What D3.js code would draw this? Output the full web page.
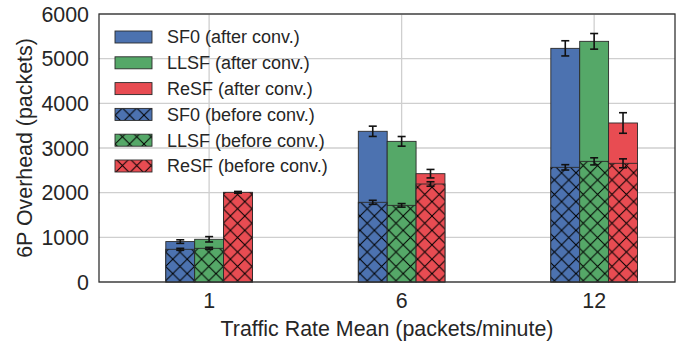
<!DOCTYPE html>
<html><head><meta charset="utf-8">
<script src="https://cdn.jsdelivr.net/npm/d3@7"></script>
<style>body{margin:0;background:#fff}svg{display:block}text{font-family:"Liberation Sans",Arial,sans-serif;fill:#262626}</style>
</head><body><svg id="c" width="695" height="341"></svg>
<script>
const categories = ["1", "6", "12"];
const schemes = ["SF0", "LLSF", "ReSF"];
const colors = ["#4C72B0", "#55A868", "#E84C52"];
const sf0After = [905, 3374, 5231];
const sf0AfterErr = [40, 115, 170];
const llsfAfter = [956, 3149, 5388];
const llsfAfterErr = [60, 108, 175];
const resfAfter = [1995, 2425, 3560];
const resfAfterErr = [20, 95, 230];
const sf0Before = [732, 1784, 2567];
const sf0BeforeErr = [22, 45, 60];
const llsfBefore = [754, 1716, 2701];
const llsfBeforeErr = [22, 40, 80];
const resfBefore = [2008, 2194, 2657];
const resfBeforeErr = [20, 50, 100];
const yTicks = [0, 1000, 2000, 3000, 4000, 5000, 6000];
const legendLabels = ["SF0 (after conv.)", "LLSF (after conv.)", "ReSF (after conv.)",
  "SF0 (before conv.)", "LLSF (before conv.)", "ReSF (before conv.)"];

const after = [sf0After, llsfAfter, resfAfter];
const afterErr = [sf0AfterErr, llsfAfterErr, resfAfterErr];
const before = [sf0Before, llsfBefore, resfBefore];
const beforeErr = [sf0BeforeErr, llsfBeforeErr, resfBeforeErr];

const L = 99, R = 675, T = 14, B = 282;
const svg = d3.select("#c");
const x = d3.scaleLinear().domain([-0.572, 2.42]).range([L, R]);
const y = d3.scaleLinear().domain([0, 6000]).range([B, T]);
const bw = 0.15;

const defs = svg.append("defs");
schemes.forEach((s, i) => {
  const p = defs.append("pattern").attr("id", "h" + i).attr("patternUnits", "userSpaceOnUse")
    .attr("width", 14.4).attr("height", 14.4).attr("x", 0).attr("y", 0);
  p.append("rect").attr("width", 14.4).attr("height", 14.4).attr("fill", colors[i]);
  p.append("path").attr("d", "M-1,-1L15.4,15.4M-1,15.4L15.4,-1").attr("stroke", "#000").attr("stroke-width", 1);
});

// grid
svg.append("g").selectAll("line").data(yTicks).join("line")
  .attr("x1", L).attr("x2", R).attr("y1", d => y(d)).attr("y2", d => y(d))
  .attr("stroke", "#cfcfcf").attr("stroke-width", 1.3);
svg.append("g").selectAll("line").data(categories).join("line")
  .attr("x1", (d, i) => x(i)).attr("x2", (d, i) => x(i)).attr("y1", T).attr("y2", B)
  .attr("stroke", "#cfcfcf").attr("stroke-width", 1.3);

function drawBars(vals, errs, hatch) {
  const g = svg.append("g");
  schemes.forEach((s, si) => {
    categories.forEach((c, ci) => {
      const cx = ci + (si - 1) * bw;
      g.append("rect").attr("x", x(cx - bw / 2)).attr("width", x(cx + bw / 2) - x(cx - bw / 2))
        .attr("y", y(vals[si][ci])).attr("height", y(0) - y(vals[si][ci]))
        .attr("fill", hatch ? "url(#h" + si + ")" : colors[si])
        .attr("stroke", "#2a2a2a").attr("stroke-width", 0.9);
    });
  });
  schemes.forEach((s, si) => {
    categories.forEach((c, ci) => {
      const cx = x(ci + (si - 1) * bw);
      const v = vals[si][ci], e = errs[si][ci];
      const eg = g.append("g").attr("stroke", "#111").attr("stroke-width", 1.6);
      eg.append("line").attr("x1", cx).attr("x2", cx).attr("y1", y(v - e)).attr("y2", y(v + e));
      eg.append("line").attr("x1", cx - 4).attr("x2", cx + 4).attr("y1", y(v - e)).attr("y2", y(v - e));
      eg.append("line").attr("x1", cx - 4).attr("x2", cx + 4).attr("y1", y(v + e)).attr("y2", y(v + e));
    });
  });
}
drawBars(after, afterErr, false);
drawBars(before, beforeErr, true);

// frame
svg.append("rect").attr("x", L).attr("y", T).attr("width", R - L).attr("height", B - T)
  .attr("fill", "none").attr("stroke", "#333").attr("stroke-width", 1.3);

// tick labels
svg.append("g").selectAll("text").data(yTicks).join("text")
  .attr("x", 89).attr("y", d => y(d)).attr("dy", "0.36em").attr("text-anchor", "end")
  .attr("font-size", 21.4).text(d => d);
svg.append("g").selectAll("text").data(categories).join("text")
  .attr("x", (d, i) => x(i)).attr("y", 308).attr("text-anchor", "middle")
  .attr("font-size", 21.4).text(d => d);

svg.append("text").attr("x", (L + R) / 2).attr("y", 336).attr("text-anchor", "middle")
  .attr("font-size", 21.4).text("Traffic Rate Mean (packets/minute)");
svg.append("text").attr("transform", `translate(32,${(T + B) / 2}) rotate(-90)`)
  .attr("text-anchor", "middle").attr("font-size", 21.4).text("6P Overhead (packets)");

// legend
const lg = svg.append("g");
legendLabels.forEach((t, i) => {
  const cy = 37 + i * 25.8;
  const si = i % 3;
  lg.append("rect").attr("x", 115).attr("y", cy - 6).attr("width", 37).attr("height", 12)
    .attr("fill", i < 3 ? colors[si] : "url(#h" + si + ")").attr("stroke", "#2a2a2a").attr("stroke-width", 0.9);
  lg.append("text").attr("x", 167).attr("y", cy).attr("dy", "0.36em").attr("font-size", 18).text(t);
});
</script></body></html>
